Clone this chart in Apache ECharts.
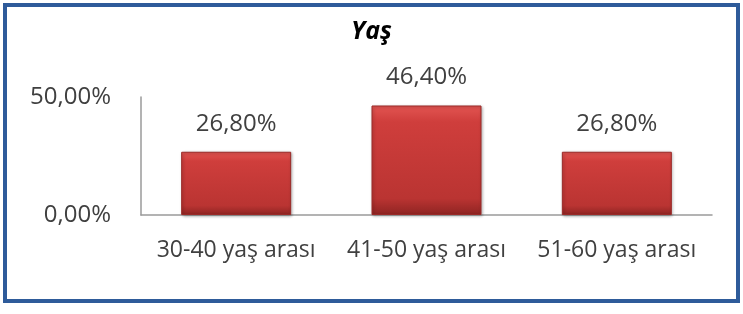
<!DOCTYPE html>
<html>
<head>
	<meta charset="utf-8">
	<title>Yaş</title>
	<script src="https://cdn.jsdelivr.net/npm/echarts@6/dist/echarts.min.js"></script>
	<style type="text/css">
		body{ margin:0; background:#fff; }
		#frame{
			position:absolute; left:3px; top:3px;
			width:729px; height:292px;
			border:4px solid #2E5B9A;
		}
		#main{ position:absolute; left:0; top:0; width:743px; height:314px; }
	</style>
</head>
<body>
	<div id="frame"></div>
	<div id="main"></div>
	<script type="text/javascript">
		var categories = ['30-40 yaş arası', '41-50 yaş arası', '51-60 yaş arası'];
		var values = [0.268, 0.464, 0.268];
		var yTicks = [0, 0.5];

		function pct(v){
			return (v * 100).toFixed(2).replace('.', ',') + '%';
		}

		var myChart = echarts.init(document.getElementById('main'));
		var option = {
			animation:false,
			title:{
				text:'Yaş',
				left:'center',
				top:14,
				textStyle:{
					fontFamily:'Open Sans',
					fontSize:25,
					fontWeight:'bold',
					fontStyle:'italic',
					color:'#000'
				}
			},
			grid:{ left:141, right:31, top:97, bottom:99 },
			xAxis:{
				type:'category',
				data:categories,
				axisLine:{ lineStyle:{ color:'#9a9a9a', width:1.5 } },
				axisTick:{ show:false },
				axisLabel:{
					interval:0,
					hideOverlap:false,
					fontFamily:'Open Sans',
					fontSize:23,
					color:'#404040',
					margin:24
				}
			},
			yAxis:{
				type:'value',
				min:yTicks[0],
				max:yTicks[yTicks.length - 1],
				interval:0.5,
				splitLine:{ show:false },
				axisLine:{ show:true, lineStyle:{ color:'#9a9a9a', width:1.5 } },
				axisTick:{ show:false },
				axisLabel:{
					formatter:pct,
					fontFamily:'Open Sans',
					fontSize:24,
					color:'#404040',
					margin:30
				}
			},
			series:[{
				type:'bar',
				data:values,
				barWidth:110,
				itemStyle:{
					color:new echarts.graphic.LinearGradient(0, 0, 0, 1, [
						{ offset:0, color:'#E35552' },
						{ offset:0.15, color:'#CF3E3C' },
						{ offset:0.85, color:'#BA3432' },
						{ offset:1, color:'#8E2422' }
					]),
					borderColor:'#9A2A28',
					borderWidth:1,
					shadowColor:'rgba(0,0,0,0.3)',
					shadowBlur:3,
					shadowOffsetX:1,
					shadowOffsetY:1
				},
				label:{
					show:true,
					position:'top',
					distance:16,
					formatter:function(p){ return pct(p.value); },
					fontFamily:'Open Sans',
					fontSize:24,
					color:'#404040'
				}
			}]
		};
		myChart.setOption(option);
	</script>
</body>
</html>
